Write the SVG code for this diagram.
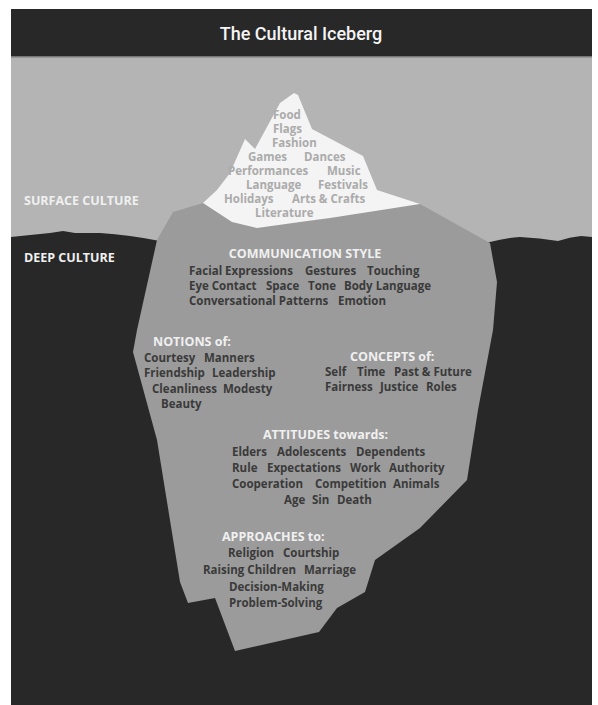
<svg xmlns="http://www.w3.org/2000/svg" width="598" height="705" viewBox="0 0 598 705">
  <style>
    .title { font-family: Roboto, "Liberation Sans", sans-serif; font-weight: 500; font-size: 18px; fill: #f4f4f4; }
    .head { font-family: "Open Sans", "Liberation Sans", sans-serif; font-weight: 700; font-size: 12.5px; fill: #f0f0f0; }
    .body { font-family: "Open Sans", "Liberation Sans", sans-serif; font-weight: 700; font-size: 11.5px; fill: #3a3a3a; }
    .tip { font-family: "Open Sans", "Liberation Sans", sans-serif; font-weight: 700; font-size: 11.5px; fill: #ababab; }
  </style>

  <!-- page -->
  <rect x="0" y="0" width="598" height="705" fill="#ffffff"/>

  <!-- sky above the waterline -->
  <rect id="sky" x="11" y="56" width="581" height="649" fill="#b4b4b4"/>

  <!-- title bar -->
  <g id="header">
    <rect x="11" y="9" width="581" height="47" fill="#282828"/>
    <rect x="11" y="56" width="581" height="1.5" fill="#777777"/>
    <text class="title" x="301" y="40" text-anchor="middle">The Cultural Iceberg</text>
  </g>

  <!-- deep water below the waterline -->
  <path id="water" fill="#282828" d="M11,237 Q30,235 50,233 L63,231 L75,233 L100,233 Q130,235 160,241 L490,242 Q505,238 520,237 Q540,238 558,241 Q570,237 581,236 L592,237 L592,705 L11,705 Z"/>

  <!-- iceberg: submerged body and visible tip -->
  <g id="iceberg">
    <polygon fill="#9b9b9b" points="173,212 203,203 420,204 490,243 497,282 493,330 478,410 467,480 420,528 375,560 365,592 337,608 319,632 235,651 215,598 188,603 180,582 157,440 133,352 137,330 157,240"/>
    <polygon fill="#f4f4f4" points="203,203 217,190 230,173 245,139 255,149 280,103 294,93 298,95 312,129 363,156 377,190 420,204 330,218 300,222 257,228 232,222"/>
  </g>

  <!-- level labels -->
  <g id="surface-label">
    <text class="head" x="24" y="205">SURFACE CULTURE</text>
  </g>
  <g id="deep-label">
    <text class="head" x="24" y="262">DEEP CULTURE</text>
  </g>

  <!-- visible traits on the tip -->
  <g id="surface-traits" class="tip">
    <text x="273" y="119">Food</text>
    <text x="273" y="133">Flags</text>
    <text x="272" y="147">Fashion</text>
    <text y="161"><tspan x="248">Games</tspan><tspan x="304">Dances</tspan></text>
    <text y="175"><tspan x="228">Performances</tspan><tspan x="327">Music</tspan></text>
    <text y="189"><tspan x="246">Language</tspan><tspan x="318">Festivals</tspan></text>
    <text y="203"><tspan x="224">Holidays</tspan><tspan x="292">Arts &amp; Crafts</tspan></text>
    <text x="255" y="217">Literature</text>
  </g>

  <g id="communication">
    <text class="head" x="305" y="258" text-anchor="middle">COMMUNICATION STYLE</text>
    <text class="body" y="275"><tspan x="189">Facial Expressions</tspan><tspan x="305">Gestures</tspan><tspan x="367">Touching</tspan></text>
    <text class="body" y="290"><tspan x="189">Eye Contact</tspan><tspan x="266">Space</tspan><tspan x="308">Tone</tspan><tspan x="344">Body Language</tspan></text>
    <text class="body" y="305"><tspan x="189">Conversational Patterns</tspan><tspan x="338">Emotion</tspan></text>
  </g>

  <g id="notions">
    <text class="head" x="153" y="346">NOTIONS of:</text>
    <text class="body" y="362"><tspan x="144">Courtesy</tspan><tspan x="204">Manners</tspan></text>
    <text class="body" y="377"><tspan x="144">Friendship</tspan><tspan x="212">Leadership</tspan></text>
    <text class="body" y="393"><tspan x="152">Cleanliness</tspan><tspan x="223">Modesty</tspan></text>
    <text class="body" x="161" y="408">Beauty</text>
  </g>

  <g id="concepts">
    <text class="head" x="350" y="361">CONCEPTS of:</text>
    <text class="body" y="376"><tspan x="325">Self</tspan><tspan x="357">Time</tspan><tspan x="394">Past &amp; Future</tspan></text>
    <text class="body" y="391"><tspan x="325">Fairness</tspan><tspan x="380">Justice</tspan><tspan x="426">Roles</tspan></text>
  </g>

  <g id="attitudes">
    <text class="head" x="263" y="439">ATTITUDES towards:</text>
    <text class="body" y="456"><tspan x="232">Elders</tspan><tspan x="277">Adolescents</tspan><tspan x="356">Dependents</tspan></text>
    <text class="body" y="472"><tspan x="232">Rule</tspan><tspan x="267">Expectations</tspan><tspan x="350">Work</tspan><tspan x="389">Authority</tspan></text>
    <text class="body" y="488"><tspan x="232">Cooperation</tspan><tspan x="315">Competition</tspan><tspan x="393">Animals</tspan></text>
    <text class="body" y="504"><tspan x="284">Age</tspan><tspan x="312">Sin</tspan><tspan x="337">Death</tspan></text>
  </g>

  <g id="approaches">
    <text class="head" x="222" y="541">APPROACHES to:</text>
    <text class="body" y="557"><tspan x="228">Religion</tspan><tspan x="283">Courtship</tspan></text>
    <text class="body" y="574"><tspan x="203">Raising Children</tspan><tspan x="304">Marriage</tspan></text>
    <text class="body" x="229" y="591">Decision-Making</text>
    <text class="body" x="229" y="607">Problem-Solving</text>
  </g>
</svg>
